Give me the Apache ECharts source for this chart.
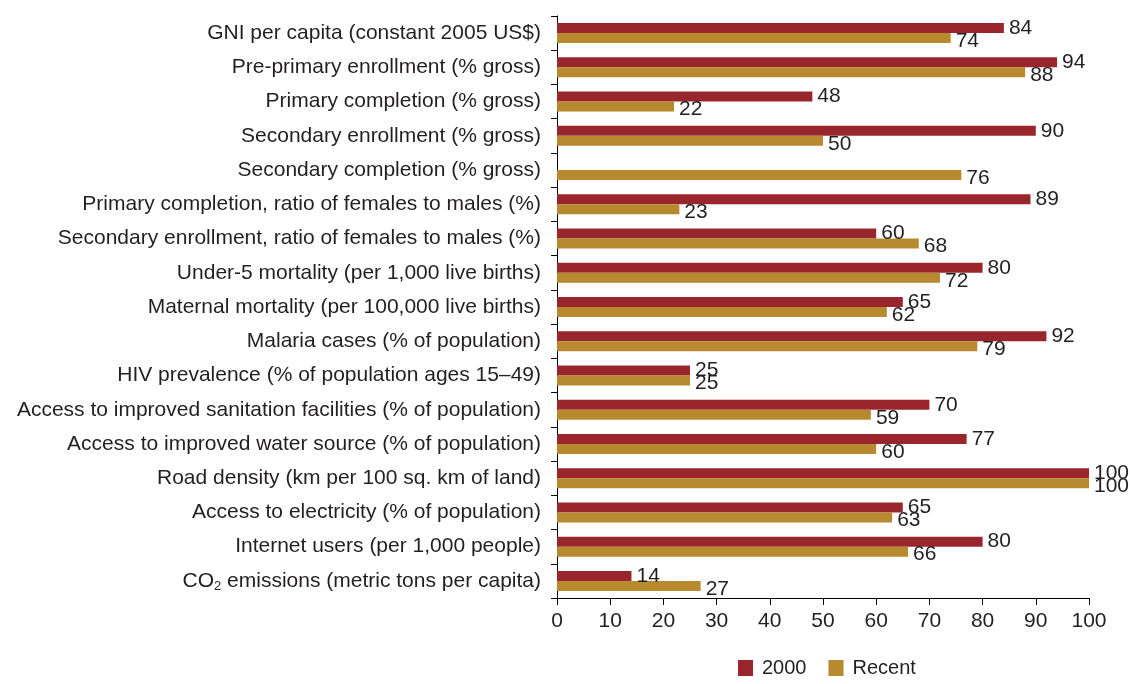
<!DOCTYPE html>
<html>
<head>
<meta charset="utf-8">
<script src="https://cdn.jsdelivr.net/npm/echarts@6/dist/echarts.min.js"></script>
<style>
  html, body { margin: 0; padding: 0; background: #fff; }
  #chart { width: 1130px; height: 684px; }
</style>
</head>
<body>
<div id="chart"></div>
<script>
  // categories, top to bottom
  const categories = [
    'GNI per capita (constant 2005 US$)',
    'Pre-primary enrollment (% gross)',
    'Primary completion (% gross)',
    'Secondary enrollment (% gross)',
    'Secondary completion (% gross)',
    'Primary completion, ratio of females to males (%)',
    'Secondary enrollment, ratio of females to males (%)',
    'Under-5 mortality (per 1,000 live births)',
    'Maternal mortality (per 100,000 live births)',
    'Malaria cases (% of population)',
    'HIV prevalence (% of population ages 15\u201349)',
    'Access to improved sanitation facilities (% of population)',
    'Access to improved water source (% of population)',
    'Road density (km per 100 sq. km of land)',
    'Access to electricity (% of population)',
    'Internet users (per 1,000 people)',
    'CO2 emissions (metric tons per capita)'
  ];
  const values2000 = [84, 94, 48, 90, null, 89, 60, 80, 65, 92, 25, 70, 77, 100, 65, 80, 14];
  const valuesRecent = [74, 88, 22, 50, 76, 23, 68, 72, 62, 79, 25, 59, 60, 100, 63, 66, 27];
  const seriesNames = ['2000', 'Recent'];
  const xTicks = [0, 10, 20, 30, 40, 50, 60, 70, 80, 90, 100];

  const textColor = '#231f20';
  const font = 'Liberation Sans, Arial, sans-serif';

  let chart = echarts.init(document.getElementById('chart'));
  const labelStyle = {
    show: true,
    position: 'right',
    distance: 5,
    color: textColor,
    fontSize: 21,
    fontFamily: font
  };
  const option = {
    animation: false,
    textStyle: { fontFamily: font },
    grid: { left: 557, right: 41, top: 16, bottom: 86 },
    legend: {
      bottom: 1,
      left: 733,
      itemWidth: 15,
      itemHeight: 16,
      itemGap: 22,
      icon: 'rect',
      textStyle: { color: textColor, fontSize: 20, fontFamily: font, padding: [0, 0, 0, 4] },
      data: seriesNames
    },
    xAxis: {
      type: 'value',
      min: xTicks[0],
      max: xTicks[xTicks.length - 1],
      interval: 10,
      splitLine: { show: false },
      axisLine: { show: true, lineStyle: { color: '#000', width: 1 } },
      axisTick: { show: true, length: 7, lineStyle: { color: '#000' } },
      axisLabel: { color: textColor, fontSize: 21, margin: 13, fontFamily: font }
    },
    yAxis: {
      type: 'category',
      inverse: true,
      data: categories,
      axisLine: { show: true, lineStyle: { color: '#000', width: 1 } },
      axisTick: { show: true, length: 6, lineStyle: { color: '#000' } },
      axisLabel: {
        color: textColor,
        fontSize: 21,
        margin: 16,
        fontFamily: font,
        formatter: function (v) {
          if (v.indexOf('CO2') === 0) {
            return '{t|CO}{s|2}{t|' + v.slice(3) + '}';
          }
          return v;
        },
        rich: {
          t: { fontSize: 21, color: textColor, fontFamily: font },
          s: { fontSize: 13, color: textColor, fontFamily: font, padding: [11, 0, 0, 0] }
        }
      }
    },
    series: [
      {
        name: seriesNames[0],
        type: 'bar',
        data: values2000,
        barWidth: 10,
        barGap: '0%',
        itemStyle: { color: '#9a262d' },
        label: labelStyle
      },
      {
        name: seriesNames[1],
        type: 'bar',
        data: valuesRecent,
        barWidth: 10,
        barGap: '0%',
        itemStyle: { color: '#b88a2f' },
        label: Object.assign({}, labelStyle, { offset: [0, 3] })
      }
    ]
  };
  chart.setOption(option);
  window.addEventListener('resize', () => {
    chart.resize();
  });
</script>
</body>
</html>
